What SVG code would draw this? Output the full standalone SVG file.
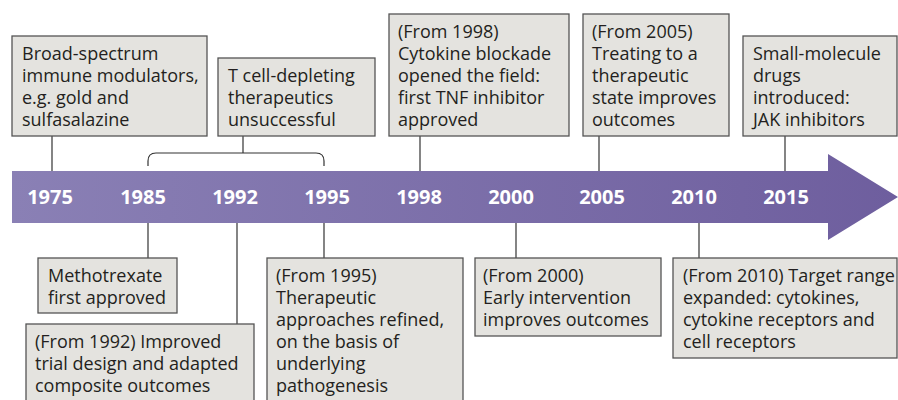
<svg xmlns="http://www.w3.org/2000/svg" width="898" height="400" viewBox="0 0 898 400">
<defs>
<linearGradient id="band" x1="0" y1="0" x2="1" y2="0">
<stop offset="0" stop-color="#8a80b5"/>
<stop offset="1" stop-color="#6e5e9e"/>
</linearGradient>
<style>
.box{fill:#e4e3df;stroke:#555;stroke-width:1.3}
.t{font-family:"Open Sans","Liberation Sans",sans-serif;font-size:18px;fill:#231f20}
.yr{font-family:"Open Sans","Liberation Sans",sans-serif;font-size:20px;font-weight:bold;fill:#fff;text-anchor:middle}
.ln{stroke:#333;stroke-width:1.2;fill:none}
</style>
</defs>
<rect width="898" height="400" fill="#fff"/>
<g id="timeline">
<path d="M12 171 H828 V154 L898 197 L828 240 V223 H12 Z" fill="url(#band)"/>
<text class="yr" x="50" y="204">1975</text>
<text class="yr" x="143" y="204">1985</text>
<text class="yr" x="235" y="204">1992</text>
<text class="yr" x="327" y="204">1995</text>
<text class="yr" x="419" y="204">1998</text>
<text class="yr" x="511" y="204">2000</text>
<text class="yr" x="602" y="204">2005</text>
<text class="yr" x="694" y="204">2010</text>
<text class="yr" x="786" y="204">2015</text>
</g>
<g id="connectors">
<path class="ln" d="M52 136 V171"/>
<path class="ln" d="M243 136 V153"/>
<path class="ln" d="M148 166 V161 Q148 153 156 153 H316 Q324 153 324 161 V166"/>
<path class="ln" d="M420 136 V171"/>
<path class="ln" d="M599 136 V171"/>
<path class="ln" d="M785 136 V171"/>
<path class="ln" d="M148 223 V258"/>
<path class="ln" d="M237 223 V324"/>
<path class="ln" d="M324 223 V258"/>
<path class="ln" d="M516 223 V258"/>
<path class="ln" d="M699 223 V258"/>
</g>
<g id="n1975">
<rect class="box" x="12" y="36" width="195" height="100"/>
<text class="t" x="22" y="60">Broad-spectrum</text>
<text class="t" x="22" y="82">immune modulators,</text>
<text class="t" x="22" y="104">e.g. gold and</text>
<text class="t" x="22" y="126">sulfasalazine</text>
</g>
<g id="ntcell">
<rect class="box" x="218" y="58" width="157" height="78"/>
<text class="t" x="228" y="82">T cell-depleting</text>
<text class="t" x="228" y="104">therapeutics</text>
<text class="t" x="228" y="126">unsuccessful</text>
</g>
<g id="n1998">
<rect class="box" x="389" y="14" width="180" height="122"/>
<text class="t" x="398" y="38">(From 1998)</text>
<text class="t" x="398" y="60">Cytokine blockade</text>
<text class="t" x="398" y="82">opened the field:</text>
<text class="t" x="398" y="104">first TNF inhibitor</text>
<text class="t" x="398" y="126">approved</text>
</g>
<g id="n2005">
<rect class="box" x="583" y="14" width="146" height="122"/>
<text class="t" x="592" y="38">(From 2005)</text>
<text class="t" x="592" y="60">Treating to a</text>
<text class="t" x="592" y="82">therapeutic</text>
<text class="t" x="592" y="104">state improves</text>
<text class="t" x="592" y="126">outcomes</text>
</g>
<g id="n2015">
<rect class="box" x="743" y="36" width="154" height="100"/>
<text class="t" x="753" y="60">Small-molecule</text>
<text class="t" x="753" y="82">drugs</text>
<text class="t" x="753" y="104">introduced:</text>
<text class="t" x="753" y="126">JAK inhibitors</text>
</g>
<g id="n1985">
<rect class="box" x="38" y="258" width="139" height="55"/>
<text class="t" x="48" y="282">Methotrexate</text>
<text class="t" x="48" y="304">first approved</text>
</g>
<g id="n1992">
<rect class="box" x="26" y="324" width="228" height="80"/>
<text class="t" x="35" y="348">(From 1992) Improved</text>
<text class="t" x="35" y="370">trial design and adapted</text>
<text class="t" x="35" y="392">composite outcomes</text>
</g>
<g id="n1995">
<rect class="box" x="267" y="258" width="196" height="146"/>
<text class="t" x="276" y="282">(From 1995)</text>
<text class="t" x="276" y="304">Therapeutic</text>
<text class="t" x="276" y="326">approaches refined,</text>
<text class="t" x="276" y="348">on the basis of</text>
<text class="t" x="276" y="370">underlying</text>
<text class="t" x="276" y="392">pathogenesis</text>
</g>
<g id="n2000">
<rect class="box" x="475" y="258" width="186" height="78"/>
<text class="t" x="483" y="282">(From 2000)</text>
<text class="t" x="483" y="304">Early intervention</text>
<text class="t" x="483" y="326">improves outcomes</text>
</g>
<g id="n2010">
<rect class="box" x="673" y="258" width="224" height="100"/>
<text class="t" x="683" y="282">(From 2010) Target range</text>
<text class="t" x="683" y="304">expanded: cytokines,</text>
<text class="t" x="683" y="326">cytokine receptors and</text>
<text class="t" x="683" y="348">cell receptors</text>
</g>
</svg>
